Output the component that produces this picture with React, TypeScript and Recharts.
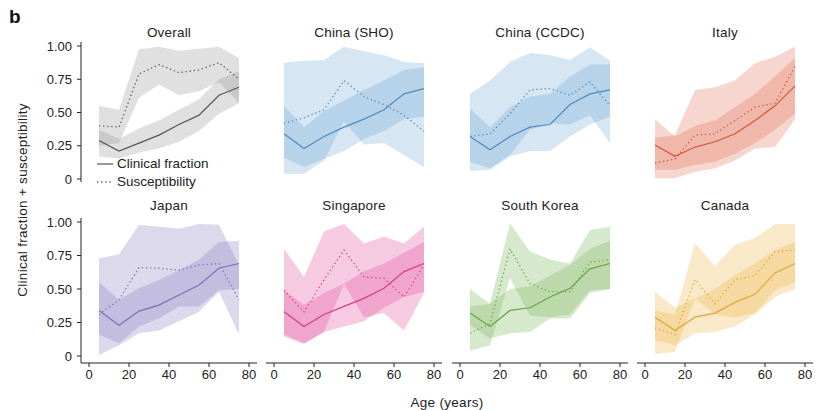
import React from 'react';
import { ComposedChart, Area, Line, XAxis, YAxis } from 'recharts';

const AGES = [5, 15, 25, 35, 45, 55, 65, 75];
const X_TICKS = [0, 20, 40, 60, 80];
const Y_TICKS = [0, 0.25, 0.5, 0.75, 1];

// Overall
const overallClin = [0.29, 0.21, 0.27, 0.33, 0.41, 0.48, 0.63, 0.69];
const overallClinLo = [0.17, 0.155, 0.2, 0.23, 0.28, 0.36, 0.49, 0.57];
const overallClinHi = [0.37, 0.3, 0.38, 0.44, 0.52, 0.6, 0.75, 0.81];
const overallSus = [0.4, 0.39, 0.79, 0.86, 0.8, 0.82, 0.875, 0.75];
const overallSusLo = [0.25, 0.27, 0.61, 0.71, 0.63, 0.66, 0.73, 0.57];
const overallSusHi = [0.55, 0.52, 0.975, 0.995, 0.965, 0.98, 0.995, 0.91];

// China (SHO)
const shoClin = [0.34, 0.23, 0.32, 0.39, 0.45, 0.52, 0.64, 0.68];
const shoClinLo = [0.16, 0.09, 0.15, 0.21, 0.3, 0.36, 0.45, 0.47];
const shoClinHi = [0.55, 0.39, 0.51, 0.59, 0.67, 0.74, 0.82, 0.84];
const shoSus = [0.42, 0.46, 0.52, 0.74, 0.62, 0.56, 0.48, 0.36];
const shoSusLo = [0.04, 0.04, 0.14, 0.43, 0.26, 0.27, 0.18, 0.09];
const shoSusHi = [0.875, 0.89, 0.895, 0.995, 0.96, 0.93, 0.88, 0.87];

// China (CCDC)
const ccdcClin = [0.32, 0.22, 0.32, 0.39, 0.41, 0.56, 0.64, 0.67];
const ccdcClinLo = [0.06, 0.07, 0.17, 0.21, 0.21, 0.32, 0.41, 0.47];
const ccdcClinHi = [0.53, 0.39, 0.54, 0.62, 0.64, 0.77, 0.86, 0.86];
const ccdcSus = [0.32, 0.34, 0.49, 0.67, 0.68, 0.63, 0.73, 0.55];
const ccdcSusLo = [0.13, 0.08, 0.18, 0.37, 0.42, 0.41, 0.48, 0.27];
const ccdcSusHi = [0.64, 0.74, 0.88, 0.95, 0.93, 0.895, 0.99, 0.89];

// Italy
const italyClin = [0.255, 0.17, 0.24, 0.28, 0.34, 0.44, 0.55, 0.7];
const italyClinLo = [0.07, 0.07, 0.105, 0.13, 0.19, 0.27, 0.37, 0.49];
const italyClinHi = [0.45, 0.32, 0.4, 0.44, 0.54, 0.64, 0.77, 0.91];
const italySus = [0.12, 0.15, 0.33, 0.34, 0.44, 0.54, 0.57, 0.845];
const italySusLo = [0.005, 0.005, 0.055, 0.08, 0.14, 0.23, 0.24, 0.45];
const italySusHi = [0.31, 0.33, 0.67, 0.69, 0.74, 0.87, 0.92, 0.995];

// Japan
const japanClin = [0.34, 0.23, 0.335, 0.38, 0.455, 0.53, 0.655, 0.69];
const japanClinLo = [0.16, 0.095, 0.22, 0.28, 0.37, 0.37, 0.49, 0.5];
const japanClinHi = [0.55, 0.42, 0.505, 0.567, 0.64, 0.72, 0.85, 0.86];
const japanSus = [0.31, 0.42, 0.66, 0.655, 0.64, 0.68, 0.69, 0.42];
const japanSusLo = [0.007, 0.08, 0.17, 0.19, 0.26, 0.33, 0.48, 0.16];
const japanSusHi = [0.73, 0.76, 0.98, 0.965, 0.95, 0.985, 0.98, 0.68];

// Singapore
const singClin = [0.33, 0.22, 0.31, 0.37, 0.43, 0.505, 0.63, 0.69];
const singClinLo = [0.16, 0.095, 0.18, 0.22, 0.26, 0.36, 0.44, 0.48];
const singClinHi = [0.49, 0.38, 0.47, 0.54, 0.63, 0.69, 0.77, 0.85];
const singSus = [0.49, 0.33, 0.57, 0.79, 0.59, 0.58, 0.44, 0.68];
const singSusLo = [0.145, 0.09, 0.18, 0.54, 0.29, 0.32, 0.19, 0.47];
const singSusHi = [0.8, 0.59, 0.93, 0.985, 0.84, 0.89, 0.84, 0.965];

// South Korea
const koreaClin = [0.32, 0.22, 0.34, 0.36, 0.44, 0.505, 0.65, 0.69];
const koreaClinLo = [0.23, 0.13, 0.17, 0.18, 0.28, 0.28, 0.47, 0.5];
const koreaClinHi = [0.5, 0.39, 0.5, 0.52, 0.6, 0.68, 0.8, 0.86];
const koreaSus = [0.17, 0.24, 0.8, 0.54, 0.48, 0.48, 0.7, 0.72];
const koreaSusLo = [0.04, 0.08, 0.58, 0.3, 0.29, 0.31, 0.49, 0.5];
const koreaSusHi = [0.37, 0.39, 0.99, 0.78, 0.72, 0.69, 0.94, 0.965];

// Canada
const canadaClin = [0.29, 0.19, 0.29, 0.32, 0.4, 0.46, 0.62, 0.69];
const canadaClinLo = [0.12, 0.08, 0.17, 0.18, 0.22, 0.31, 0.44, 0.5];
const canadaClinHi = [0.48, 0.36, 0.43, 0.5, 0.6, 0.69, 0.79, 0.85];
const canadaSus = [0.21, 0.16, 0.57, 0.39, 0.57, 0.6, 0.78, 0.79];
const canadaSusLo = [0.015, 0.03, 0.43, 0.31, 0.29, 0.32, 0.49, 0.55];
const canadaSusHi = [0.34, 0.31, 0.84, 0.67, 0.83, 0.88, 0.985, 0.985];

const FONT = '"Liberation Sans", Arial, Helvetica, sans-serif';
const INK = '#222';

const panels = [
  { title: 'Overall', line: '#555555', fill: '#999999', op: 0.3, clin: overallClin, clinLo: overallClinLo, clinHi: overallClinHi, sus: overallSus, susLo: overallSusLo, susHi: overallSusHi },
  { title: 'China (SHO)', line: '#4f8bbf', fill: '#5b9bd0', op: 0.25, clin: shoClin, clinLo: shoClinLo, clinHi: shoClinHi, sus: shoSus, susLo: shoSusLo, susHi: shoSusHi },
  { title: 'China (CCDC)', line: '#4f8bbf', fill: '#5b9bd0', op: 0.25, clin: ccdcClin, clinLo: ccdcClinLo, clinHi: ccdcClinHi, sus: ccdcSus, susLo: ccdcSusLo, susHi: ccdcSusHi },
  { title: 'Italy', line: '#d9533a', fill: '#e06a50', op: 0.28, clin: italyClin, clinLo: italyClinLo, clinHi: italyClinHi, sus: italySus, susLo: italySusLo, susHi: italySusHi },
  { title: 'Japan', line: '#7a70b5', fill: '#8b82c0', op: 0.3, clin: japanClin, clinLo: japanClinLo, clinHi: japanClinHi, sus: japanSus, susLo: japanSusLo, susHi: japanSusHi },
  { title: 'Singapore', line: '#d63d8b', fill: '#e0509a', op: 0.3, clin: singClin, clinLo: singClinLo, clinHi: singClinHi, sus: singSus, susLo: singSusLo, susHi: singSusHi },
  { title: 'South Korea', line: '#68a444', fill: '#7ab55a', op: 0.3, clin: koreaClin, clinLo: koreaClinLo, clinHi: koreaClinHi, sus: koreaSus, susLo: koreaSusLo, susHi: koreaSusHi },
  { title: 'Canada', line: '#e0a73a', fill: '#eab54a', op: 0.3, clin: canadaClin, clinLo: canadaClinLo, clinHi: canadaClinHi, sus: canadaSus, susLo: canadaSusLo, susHi: canadaSusHi },
];

// plot boxes (axis line extents)
const COL_LEFT = [81, 266, 452, 637];
const ROW_TOP = [42, 218];
const PLOT_W = 176;
const PLOT_H = [140, 145];
const Y_PAD = [{ top: 4, bottom: 3 }, { top: 4, bottom: 7 }];
const TITLE_Y = [32, 205];

const tickStyle = { fontSize: 13, fill: INK, fontFamily: FONT };

const Panel = ({ idx }: { idx: number }) => {
  const p = panels[idx];
  const row = Math.floor(idx / 4);
  const col = idx % 4;
  const showY = col === 0;
  const showX = row === 1;
  const yW = showY ? 46 : 0;
  const xH = showX ? 26 : 0;
  const mTop = 8;
  const mRight = 10;
  const mBottom = showX ? 0 : 10;
  const width = yW + PLOT_W + mRight;
  const height = mTop + PLOT_H[row] + xH + mBottom;
  const data = AGES.map((age, i) => ({
    age,
    clin: p.clin[i],
    sus: p.sus[i],
    clinBand: [p.clinLo[i], p.clinHi[i]],
    susBand: [p.susLo[i], p.susHi[i]],
  }));
  const top = ROW_TOP[row] - mTop;
  return (
    <div style={{ position: 'absolute', left: COL_LEFT[col] - yW, top }}>
      <ComposedChart width={width} height={height} data={data} margin={{ top: mTop, right: mRight, bottom: mBottom, left: 0 }}>
        <XAxis
          type="number"
          dataKey="age"
          domain={[0, 80]}
          ticks={X_TICKS}
          interval={0}
          padding={{ left: 8, right: 8 }}
          hide={!showX}
          height={xH}
          tick={tickStyle}
          tickSize={4}
          tickMargin={3}
          axisLine={{ stroke: INK }}
          tickLine={{ stroke: INK }}
        />
        <YAxis
          type="number"
          domain={[0, 1]}
          ticks={Y_TICKS}
          interval={0}
          padding={Y_PAD[row]}
          hide={!showY}
          width={yW}
          tick={tickStyle}
          tickSize={4}
          tickMargin={5}
          tickFormatter={(v: number) => (v === 0 ? '0' : v.toFixed(2))}
          axisLine={{ stroke: INK }}
          tickLine={{ stroke: INK }}
        />
        <Area type="linear" dataKey="susBand" stroke="none" fill={p.fill} fillOpacity={p.op} isAnimationActive={false} />
        <Area type="linear" dataKey="clinBand" stroke="none" fill={p.fill} fillOpacity={p.op} isAnimationActive={false} />
        <Line type="linear" dataKey="clin" stroke={p.line} strokeWidth={1.2} dot={false} isAnimationActive={false} />
        <Line type="linear" dataKey="sus" stroke={p.line} strokeWidth={1.3} strokeDasharray="1.3 2.8" dot={false} isAnimationActive={false} />
      </ComposedChart>
      <div
        style={{
          position: 'absolute',
          left: yW,
          width: PLOT_W,
          top: TITLE_Y[row] - top,
          transform: 'translateY(-50%)',
          textAlign: 'center',
          fontFamily: FONT,
          fontSize: 13.5,
          color: INK,
          letterSpacing: 0.2,
          whiteSpace: 'nowrap',
        }}
      >
        {p.title}
      </div>
    </div>
  );
};

const LegendBox = () => (
  <div style={{ position: 'absolute', left: 96, top: 155, fontFamily: FONT, fontSize: 13.5, color: INK, lineHeight: '18px' }}>
    <div style={{ display: 'flex', alignItems: 'center' }}>
      <svg width={18} height={18}>
        <line x1={1} x2={17} y1={9} y2={9} stroke="#555" strokeWidth={1.2} />
      </svg>
      <span style={{ marginLeft: 3 }}>Clinical fraction</span>
    </div>
    <div style={{ display: 'flex', alignItems: 'center' }}>
      <svg width={18} height={18}>
        <line x1={1} x2={17} y1={9} y2={9} stroke="#555" strokeWidth={1.3} strokeDasharray="1.3 2.8" />
      </svg>
      <span style={{ marginLeft: 3 }}>Susceptibility</span>
    </div>
  </div>
);

export default function App() {
  return (
    <div style={{ position: 'absolute', left: 0, top: 0, width: 823, height: 410, background: '#fff', overflow: 'hidden', fontFamily: FONT }}>
      <div style={{ position: 'absolute', left: 9, top: 6, fontSize: 19, fontWeight: 'bold', color: '#111' }}>b</div>
      {panels.map((_, i) => (
        <Panel key={i} idx={i} />
      ))}
      <LegendBox />
      <div
        style={{
          position: 'absolute',
          left: 22,
          top: 200,
          transform: 'translate(-50%, -50%) rotate(-90deg)',
          whiteSpace: 'nowrap',
          fontSize: 13.5,
          color: INK,
          letterSpacing: 0.3,
        }}
      >
        Clinical fraction + susceptibility
      </div>
      <div
        style={{
          position: 'absolute',
          left: 447,
          top: 402,
          transform: 'translate(-50%, -50%)',
          whiteSpace: 'nowrap',
          fontSize: 13.5,
          color: INK,
          letterSpacing: 0.3,
        }}
      >
        Age (years)
      </div>
    </div>
  );
}
